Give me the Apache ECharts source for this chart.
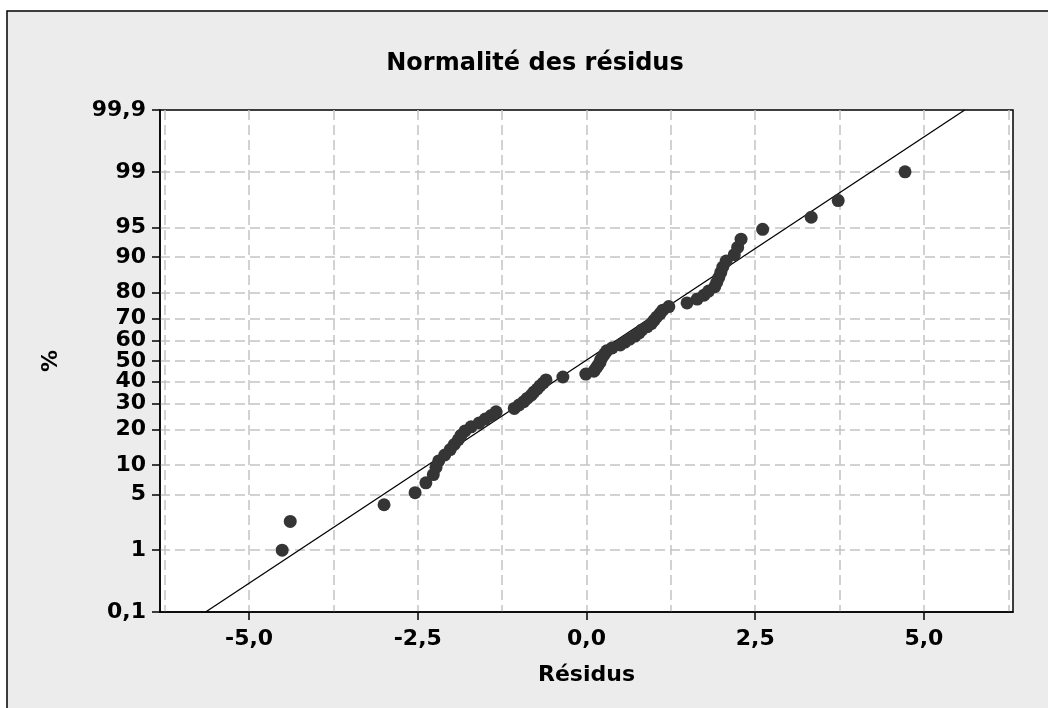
<!DOCTYPE html>
<html>
<head>
<meta charset="utf-8">
<script src="https://cdn.jsdelivr.net/npm/echarts@6/dist/echarts.min.js"></script>
<style>
  html, body { margin: 0; padding: 0; background: #fff; }
  #chart { width: 1048px; height: 708px; }
</style>
</head>
<body>
<div id="chart"></div>
<script>
// résidus triés
const residus = [
    -4.51, -4.39, -3.00, -2.54, -2.38, -2.27, -2.23, -2.19, -2.10, -2.02,
    -1.96, -1.90, -1.86, -1.80, -1.71, -1.59, -1.50, -1.41, -1.34, -1.07,
    -1.00, -0.93, -0.88, -0.82, -0.78, -0.73, -0.69, -0.64, -0.60, -0.35,
    -0.01, 0.11, 0.14, 0.17, 0.20, 0.21, 0.24, 0.27, 0.30, 0.38,
    0.50, 0.57, 0.64, 0.72, 0.78, 0.82, 0.90, 0.96, 1.00, 1.04,
    1.09, 1.13, 1.22, 1.49, 1.64, 1.74, 1.81, 1.90, 1.93, 1.96,
    1.99, 2.02, 2.07, 2.19, 2.24, 2.29, 2.61, 3.33, 3.73, 4.72
];
// droite d'ajustement (loi normale)
const fitMean = -0.02;
const fitSd = 1.82;

const pctTicks = [0.1, 1, 5, 10, 20, 30, 40, 50, 60, 70, 80, 90, 95, 99, 99.9];
const pctLabels = ['0,1', '1', '5', '10', '20', '30', '40', '50', '60', '70', '80', '90', '95', '99', '99,9'];
const xTicks = [-5, -2.5, 0, 2.5, 5];
const xLabels = ['-5,0', '-2,5', '0,0', '2,5', '5,0'];
const xGrid = [-6.25, -5, -3.75, -2.5, -1.25, 0, 1.25, 2.5, 3.75, 5, 6.25];
const xMin = -6.32, xMax = 6.32;

// inverse de la loi normale (Acklam)
function probit(p) {
    const a = [-3.969683028665376e+01, 2.209460984245205e+02, -2.759285104469687e+02, 1.383577518672690e+02, -3.066479806614716e+01, 2.506628277459239e+00];
    const b = [-5.447609879822406e+01, 1.615858368580409e+02, -1.556989798598866e+02, 6.680131188771972e+01, -1.328068155288572e+01];
    const c = [-7.784894002430293e-03, -3.223964580411365e-01, -2.400758277161838e+00, -2.549671039111135e+00, 4.374664141464968e+00, 2.938163982698783e+00];
    const d = [7.784695709041462e-03, 3.224671290700398e-01, 2.445134137142996e+00, 3.754408661907416e+00];
    const pl = 0.02425;
    let q, r;
    if (p < pl) {
        q = Math.sqrt(-2 * Math.log(p));
        return (((((c[0] * q + c[1]) * q + c[2]) * q + c[3]) * q + c[4]) * q + c[5]) / ((((d[0] * q + d[1]) * q + d[2]) * q + d[3]) * q + 1);
    }
    if (p > 1 - pl) {
        q = Math.sqrt(-2 * Math.log(1 - p));
        return -(((((c[0] * q + c[1]) * q + c[2]) * q + c[3]) * q + c[4]) * q + c[5]) / ((((d[0] * q + d[1]) * q + d[2]) * q + d[3]) * q + 1);
    }
    q = p - 0.5;
    r = q * q;
    return (((((a[0] * r + a[1]) * r + a[2]) * r + a[3]) * r + a[4]) * r + a[5]) * q / (((((b[0] * r + b[1]) * r + b[2]) * r + b[3]) * r + b[4]) * r + 1);
}

const yTickVals = pctTicks.map(p => probit(p / 100));
const yMin = yTickVals[0], yMax = yTickVals[yTickVals.length - 1];

// positions de tracé : rang médian (i - 0.3) / (n + 0.4)
const n = residus.length;
const points = residus.map((r, i) => [r, probit((i + 1 - 0.3) / (n + 0.4))]);
const fitLine = [
    [fitMean + fitSd * yMin, yMin],
    [fitMean + fitSd * yMax, yMax]
];

const font = 'DejaVu Sans';
const dash = {color: '#c4c4c4', width: 1.5, type: [10, 5]};

var chart = echarts.init(document.getElementById('chart'));

var option = {
    backgroundColor: '#fff',
    animation: false,
    graphic: [{
        type: 'rect',
        shape: {x: 7, y: 11, width: 1100, height: 800},
        style: {fill: '#ececec', stroke: '#000', lineWidth: 1.5},
        silent: true,
        z: -10
    }],
    title: {
        text: 'Normalité des résidus',
        left: 535,
        textAlign: 'center',
        top: 52,
        padding: 0,
        textStyle: {fontFamily: font, fontWeight: 'bold', fontSize: 24, color: '#000'}
    },
    grid: {
        left: 160,
        right: 35,
        top: 110,
        bottom: 96,
        show: true,
        backgroundColor: '#fff',
        borderColor: '#000',
        borderWidth: 1.5
    },
    xAxis: [
        {
            type: 'value',
            min: xMin,
            max: xMax,
            position: 'bottom',
            name: 'Résidus',
            nameLocation: 'middle',
            nameGap: 52,
            nameTextStyle: {fontFamily: font, fontWeight: 'bold', fontSize: 22, color: '#000'},
            axisLine: {show: true, onZero: false, lineStyle: {color: '#000', width: 1.5}},
            axisTick: {show: true, inside: false, length: 8, customValues: xTicks, lineStyle: {color: '#000', width: 1.5}},
            axisLabel: {
                customValues: xTicks,
                margin: 16,
                fontFamily: font,
                fontWeight: 'bold',
                fontSize: 22,
                color: '#000',
                formatter: function (v) {
                    let i = xTicks.findIndex(t => Math.abs(t - v) < 1e-6);
                    return i >= 0 ? xLabels[i] : '';
                }
            },
            splitLine: {show: false}
        },
        {
            // axe caché, seulement pour le quadrillage
            type: 'value',
            min: xMin,
            max: xMax,
            position: 'top',
            axisLine: {show: false, onZero: false},
            axisTick: {show: false, customValues: xGrid},
            axisLabel: {show: false, customValues: xGrid},
            splitLine: {show: true, lineStyle: dash}
        }
    ],
    yAxis: {
        type: 'value',
        min: yMin,
        max: yMax,
        name: '%',
        nameLocation: 'middle',
        nameRotate: 90,
        nameGap: 98,
        nameTextStyle: {fontFamily: font, fontWeight: 'bold', fontSize: 22, color: '#000'},
        axisLine: {show: true, onZero: false, lineStyle: {color: '#000', width: 1.5}},
        axisTick: {show: true, length: 8, customValues: yTickVals, lineStyle: {color: '#000', width: 1.5}},
        axisLabel: {
            customValues: yTickVals,
            margin: 14,
            fontFamily: font,
            fontWeight: 'bold',
            fontSize: 22,
            color: '#000',
            formatter: function (v) {
                let i = yTickVals.findIndex(t => Math.abs(t - v) < 1e-6);
                return i >= 0 ? pctLabels[i] : '';
            }
        },
        splitLine: {show: true, showMinLine: false, showMaxLine: false, lineStyle: dash}
    },
    series: [
        {
            name: 'ajustement',
            type: 'line',
            xAxisIndex: 0,
            data: fitLine,
            symbol: 'none',
            clip: true,
            lineStyle: {color: '#000', width: 1.3},
            z: 2
        },
        {
            name: 'résidus',
            type: 'scatter',
            xAxisIndex: 0,
            data: points,
            symbolSize: 13,
            itemStyle: {color: '#353535', opacity: 1},
            z: 3
        }
    ]
};
chart.setOption(option);
</script>
</body>
</html>
